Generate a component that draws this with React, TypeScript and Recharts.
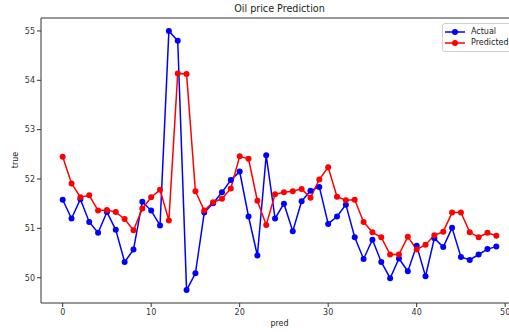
import { LineChart, Line, XAxis, YAxis, ReferenceArea } from 'recharts';

const actual = [
  51.58, 51.2, 51.59, 51.13, 50.91, 51.33, 50.97, 50.32, 50.57, 51.54,
  51.36, 51.06, 55.0, 54.8, 49.75, 50.09, 51.32, 51.51, 51.73, 51.98,
  52.15, 51.24, 50.45, 52.48, 51.2, 51.5, 50.94, 51.55, 51.76, 51.84,
  51.09, 51.24, 51.48, 50.82, 50.38, 50.77, 50.32, 49.99, 50.39, 50.13,
  50.65, 50.03, 50.8, 50.62, 51.01, 50.42, 50.36, 50.47, 50.58, 50.63,
];

const predicted = [
  52.45, 51.91, 51.63, 51.67, 51.36, 51.37, 51.33, 51.19, 50.96, 51.4,
  51.63, 51.78, 51.16, 54.14, 54.13, 51.75, 51.36, 51.53, 51.6, 51.81,
  52.46, 52.41, 51.56, 51.07, 51.69, 51.73, 51.75, 51.8, 51.62, 51.99,
  52.24, 51.64, 51.57, 51.58, 51.13, 50.92, 50.82, 50.47, 50.47, 50.83,
  50.57, 50.67, 50.86, 50.93, 51.32, 51.32, 50.92, 50.82, 50.91, 50.85,
];

const xTicks = [0, 10, 20, 30, 40, 50];
const yTicks = [50, 51, 52, 53, 54, 55];

const data = actual.map((a, i) => ({ x: i, actual: a, predicted: predicted[i] }));

const font = 'DejaVu Sans, sans-serif';
const xDom: [number, number] = [-2.45, 51.45];
const yDom: [number, number] = [49.4875, 55.2625];

function LegendBox() {
  const row = (color: string, label: string) => (
    <div style={{ display: 'flex', alignItems: 'center', height: 11 }}>
      <svg width={22} height={10} style={{ marginRight: 5 }}>
        <line x1={1} y1={5} x2={21} y2={5} stroke={color} strokeWidth={1.5} />
        <circle cx={11} cy={5} r={3} fill={color} />
      </svg>
      <span>{label}</span>
    </div>
  );
  return (
    <div
      style={{
        position: 'absolute',
        left: 442,
        top: 23,
        border: '1px solid #d0d0d0',
        borderRadius: 3,
        padding: '2px 3px 3px 1px',
        fontFamily: font,
        fontSize: 8,
        color: '#222',
        background: 'rgba(255,255,255,0.8)',
        width: 70,
        whiteSpace: 'nowrap',
      }}
    >
      {row('blue', 'Actual')}
      {row('red', 'Predicted')}
    </div>
  );
}

export default function App() {
  return (
    <div style={{ position: 'fixed', left: 0, top: 0, width: 509, height: 332, overflow: 'hidden', background: '#fff' }}>
      <LineChart width={520} height={332} data={data} margin={{ top: 18, right: 2, bottom: 0, left: 0 }}>
        <XAxis
          dataKey="x"
          type="number"
          domain={xDom}
          ticks={xTicks}
          allowDataOverflow
          height={29}
          tickSize={4}
          axisLine={false}
          tickLine={{ stroke: '#333' }}
          tick={{ fill: '#333', fontSize: 8, fontFamily: font }}
        />
        <YAxis
          type="number"
          domain={yDom}
          ticks={yTicks}
          allowDataOverflow
          width={41}
          tickSize={4}
          axisLine={false}
          tickLine={{ stroke: '#333' }}
          tick={{ fill: '#333', fontSize: 8, fontFamily: font }}
        />
        <ReferenceArea
          x1={xDom[0]}
          x2={xDom[1]}
          y1={yDom[0]}
          y2={yDom[1]}
          fill="none"
          stroke="#333"
          strokeWidth={1}
          ifOverflow="visible"
        />
        <Line
          dataKey="actual"
          stroke="blue"
          strokeWidth={1.5}
          dot={{ r: 3, fill: 'blue', stroke: 'blue', strokeWidth: 0 }}
          activeDot={false}
          isAnimationActive={false}
        />
        <Line
          dataKey="predicted"
          stroke="red"
          strokeWidth={1.5}
          dot={{ r: 3, fill: 'red', stroke: 'red', strokeWidth: 0 }}
          activeDot={false}
          isAnimationActive={false}
        />
      </LineChart>
      <div style={{ position: 'absolute', top: 3, left: 0, width: 559, textAlign: 'center', fontFamily: font, fontSize: 9.6, color: '#222' }}>
        Oil price Prediction
      </div>
      <div style={{ position: 'absolute', top: 319, left: 0, width: 559, textAlign: 'center', fontFamily: font, fontSize: 8, color: '#222' }}>
        pred
      </div>
      <div
        style={{
          position: 'absolute',
          left: 15,
          top: 160,
          transform: 'translate(-50%, -50%) rotate(-90deg)',
          fontFamily: font,
          fontSize: 8,
          color: '#222',
        }}
      >
        true
      </div>
      <LegendBox />
    </div>
  );
}
